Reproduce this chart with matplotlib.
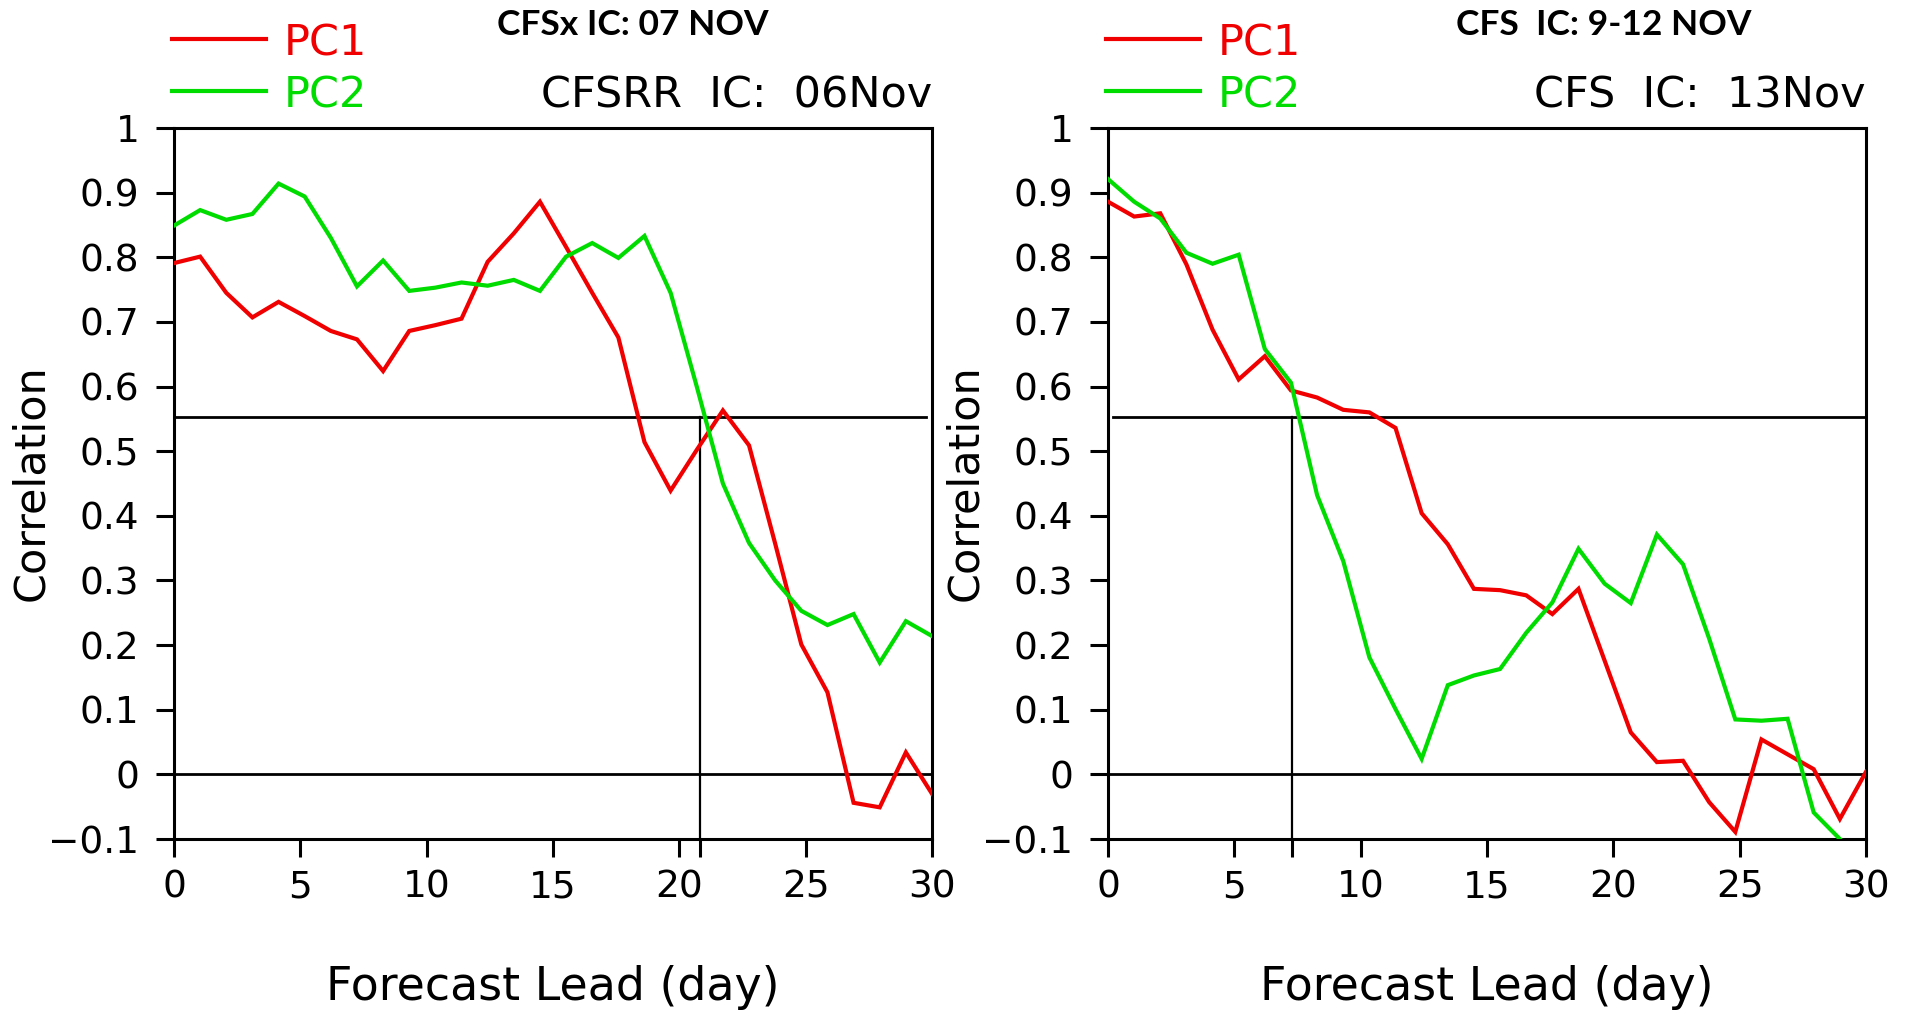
import numpy as np
import matplotlib
matplotlib.use("Agg")
import matplotlib.pyplot as plt
from matplotlib.lines import Line2D
from matplotlib.ticker import FuncFormatter

# ── Data ──────────────────────────────────────────────
lead = np.linspace(0, 30, 30)

cfsrr_pc1 = [0.791, 0.801, 0.745, 0.707, 0.731, 0.709, 0.686, 0.673, 0.624, 0.686,
             0.695, 0.705, 0.793, 0.837, 0.886, 0.816, 0.745, 0.676, 0.514, 0.439,
             0.502, 0.563, 0.509, 0.357, 0.201, 0.127, -0.044, -0.051, 0.034, -0.030]
cfsrr_pc2 = [0.849, 0.873, 0.858, 0.867, 0.914, 0.894, 0.830, 0.755, 0.795, 0.748,
             0.753, 0.761, 0.756, 0.765, 0.748, 0.801, 0.822, 0.799, 0.833, 0.745,
             0.600, 0.450, 0.358, 0.300, 0.253, 0.231, 0.248, 0.173, 0.237, 0.214]

cfs_pc1 = [0.886, 0.863, 0.868, 0.789, 0.688, 0.611, 0.647, 0.594, 0.583, 0.564,
           0.560, 0.536, 0.404, 0.356, 0.287, 0.285, 0.277, 0.248, 0.287, 0.176,
           0.065, 0.019, 0.021, -0.043, -0.089, 0.054, 0.031, 0.008, -0.069, 0.004]
cfs_pc2 = [0.921, 0.886, 0.860, 0.807, 0.790, 0.804, 0.658, 0.606, 0.432, 0.330,
           0.181, 0.101, 0.024, 0.138, 0.153, 0.163, 0.219, 0.266, 0.349, 0.295,
           0.265, 0.371, 0.325, 0.210, 0.085, 0.083, 0.086, -0.059, -0.100, -0.140]

threshold = 0.553
useful_lead = [20.8, 7.3]

x_ticks = [0, 5, 10, 15, 20, 25, 30]
y_ticks = [1.0, 0.9, 0.8, 0.7, 0.6, 0.5, 0.4, 0.3, 0.2, 0.1, 0.0, -0.1]

top_titles = ["CFSx IC: 07 NOV", "CFS  IC: 9-12 NOV"]
ic_titles = ["CFSRR  IC:  06Nov", "CFS  IC:  13Nov"]

RED = "#f00000"
GREEN = "#00dc00"

# ── Figure (pixel helpers) ────────────────────────────
W, H = 1907, 1013
fig = plt.figure(figsize=(W / 100, H / 100), dpi=100)
plt.rcParams["font.family"] = ["DejaVu Sans"]


def fx(px):
    return px / W


def fy(py):
    return 1 - py / H


def fmt(v, _):
    v = round(v, 2)
    if v == 0:
        return "0"
    if v == 1:
        return "1"
    return f"{v:g}".replace("-", "\u2212")


def draw_panel(ax, pc1, pc2, vline, hl_range):
    ax.plot(lead, pc1, color=RED, lw=3, zorder=3, solid_joinstyle="miter")
    ax.plot(lead, pc2, color=GREEN, lw=3, zorder=3, solid_joinstyle="miter")
    ax.plot(hl_range, [threshold, threshold], color="black", lw=2, zorder=2)
    ax.axhline(0, color="black", lw=2, zorder=2)
    ax.plot([vline, vline], [threshold, -0.1], color="black", lw=1.6, zorder=2)

    ax.set_xlim(0, 30)
    ax.set_ylim(-0.1, 1)
    ax.set_xticks(x_ticks)
    ax.set_xticks([vline], minor=True)
    ax.set_yticks(y_ticks)
    ax.xaxis.set_major_formatter(FuncFormatter(fmt))
    ax.yaxis.set_major_formatter(FuncFormatter(fmt))
    ax.tick_params(axis="both", which="both", direction="out", length=13,
                   width=2.2, labelsize=27, color="black")
    ax.tick_params(axis="x", pad=9)
    ax.tick_params(axis="y", pad=12)
    for s in ax.spines.values():
        s.set_linewidth(2.2)


ax1 = fig.add_axes([fx(174), fy(839), fx(758), 711 / H])
ax2 = fig.add_axes([fx(1108), fy(839), fx(758), 711 / H])

draw_panel(ax1, cfsrr_pc1, cfsrr_pc2, useful_lead[0], [0, 29.75])
draw_panel(ax2, cfs_pc1, cfs_pc2, useful_lead[1], [0.2, 30])

# ── Labels, legends and titles ────────────────────────
for ax, x0, x1, t_left, top, ic in [(ax1, 174, 932, 497, top_titles[0], ic_titles[0]),
                                    (ax2, 1108, 1866, 1456, top_titles[1], ic_titles[1])]:
    fig.text(fx(x0 - 143), fy(483), "Correlation", rotation=90, ha="center",
             va="center", fontsize=31)
    fig.text(fx((x0 + x1) / 2), fy(1000), "Forecast Lead (day)", ha="center",
             va="baseline", fontsize=33)

    for yy, yb, col, name in [(39, 55, RED, "PC1"), (91, 108, GREEN, "PC2")]:
        fig.add_artist(Line2D([fx(x0 - 2), fx(x0 + 92)], [fy(yy), fy(yy)],
                              color=col, lw=3))
        fig.text(fx(x0 + 110), fy(yb), name, color=col, fontsize=31,
                 va="baseline", ha="left")

    fig.text(fx(t_left), fy(35), top, fontsize=25.5, fontweight="bold",
             family=["Lato", "DejaVu Sans"], va="baseline", ha="left")
    fig.text(fx(x1), fy(108), ic, fontsize=31, va="baseline", ha="right")

fig.savefig("out.png", dpi=100, facecolor="white")
